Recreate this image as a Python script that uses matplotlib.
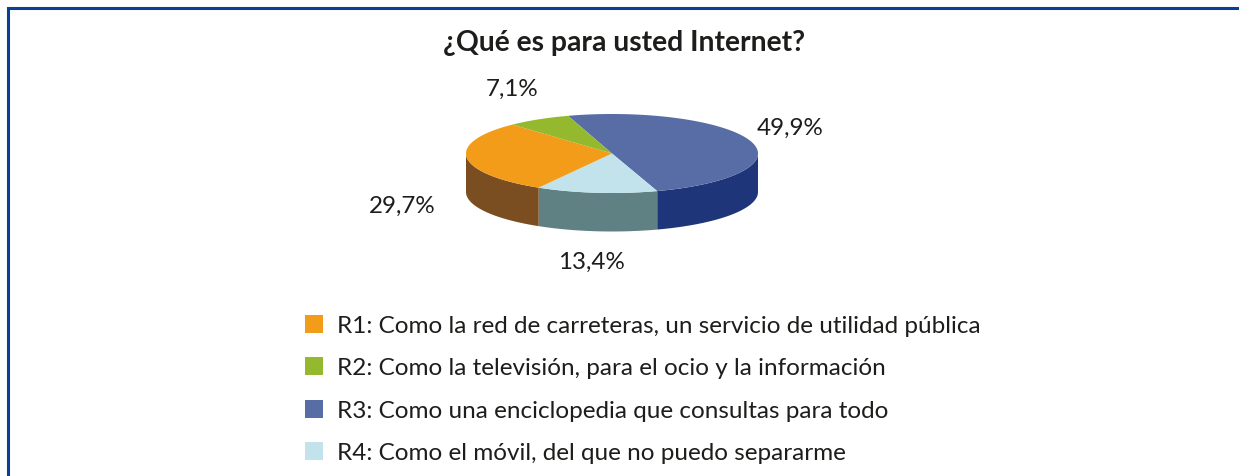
import numpy as np
import matplotlib
matplotlib.use("Agg")
import matplotlib.pyplot as plt
from matplotlib.patches import Rectangle

plt.rcParams['font.family'] = ['Lato', 'DejaVu Sans']

TITLE = "¿Qué es para usted Internet?"

# pie order, clockwise from the top
values = [49.9, 13.4, 29.7, 7.1]
pct_labels = ["49,9%", "13,4%", "29,7%", "7,1%"]
top_colors = ["#586da5", "#c2e3ec", "#f39c19", "#95b92e"]
side_colors = ["#1f3579", "#5f8183", "#7b4e21", "#6f8a22"]

legend_labels = [
    "R1: Como la red de carreteras, un servicio de utilidad pública",
    "R2: Como la televisión, para el ocio y la información",
    "R3: Como una enciclopedia que consultas para todo",
    "R4: Como el móvil, del que no puedo separarme",
]
legend_colors = ["#f39c19", "#95b92e", "#586da5", "#c2e3ec"]

TEXT_COLOR = "#1d1d1b"
BORDER_COLOR = "#0b3f92"

# pie geometry in pixels
CX, CY = 612, 154.5
RX, RY = 146, 39.5
DEPTH = 38.5
START_ANGLE = 107.5


def ellipse_xy(angles):
    rad = np.radians(angles)
    return CX + RX * np.cos(rad), CY - RY * np.sin(rad)


fig = plt.figure(figsize=(12.39, 4.77), dpi=100)
ax = fig.add_axes([0, 0, 1, 1])
ax.set_xlim(0, 1239)
ax.set_ylim(477, 0)
ax.axis('off')

# frame, cut off by the picture on the right and at the bottom
ax.plot([8, 8, 1239], [477, 9, 9], color=BORDER_COLOR, lw=2.2, solid_joinstyle='miter')

ax.text(624, 43, TITLE, ha='center', va='center', fontsize=20.3, fontweight='bold', color=TEXT_COLOR)

# slice edges from the values
sweeps = np.array(values) / sum(values) * 360
edges = START_ANGLE - np.concatenate([[0], np.cumsum(sweeps)])

# side walls first, only the front half of the rim shows
for i in range(len(values)):
    a0, a1 = edges[i], edges[i + 1]
    angles = np.linspace(a0, a1, 200)
    angles = angles[np.sin(np.radians(angles)) <= 0]
    if len(angles) == 0:
        continue
    x, y = ellipse_xy(angles)
    ax.fill(np.r_[x, x[::-1]], np.r_[y, y[::-1] + DEPTH], color=side_colors[i], lw=0)

# top face
for i in range(len(values)):
    x, y = ellipse_xy(np.linspace(edges[i], edges[i + 1], 200))
    ax.fill(np.r_[CX, x], np.r_[CY, y], color=top_colors[i], lw=0)

label_pos = [(790, 128), (591, 262), (402, 206), (512, 89)]
for lab, (lx, ly) in zip(pct_labels, label_pos):
    ax.text(lx, ly, lab, ha='center', va='center', fontsize=17.4, color=TEXT_COLOR)

legend_y = [325, 367, 410, 452]
for lab, col, ly in zip(legend_labels, legend_colors, legend_y):
    ax.add_patch(Rectangle((305, ly - 9), 18, 18, color=col, lw=0))
    ax.text(337, ly + 2, lab, ha='left', va='center', fontsize=17.5, color=TEXT_COLOR)

fig.savefig("out.png", dpi=100)
